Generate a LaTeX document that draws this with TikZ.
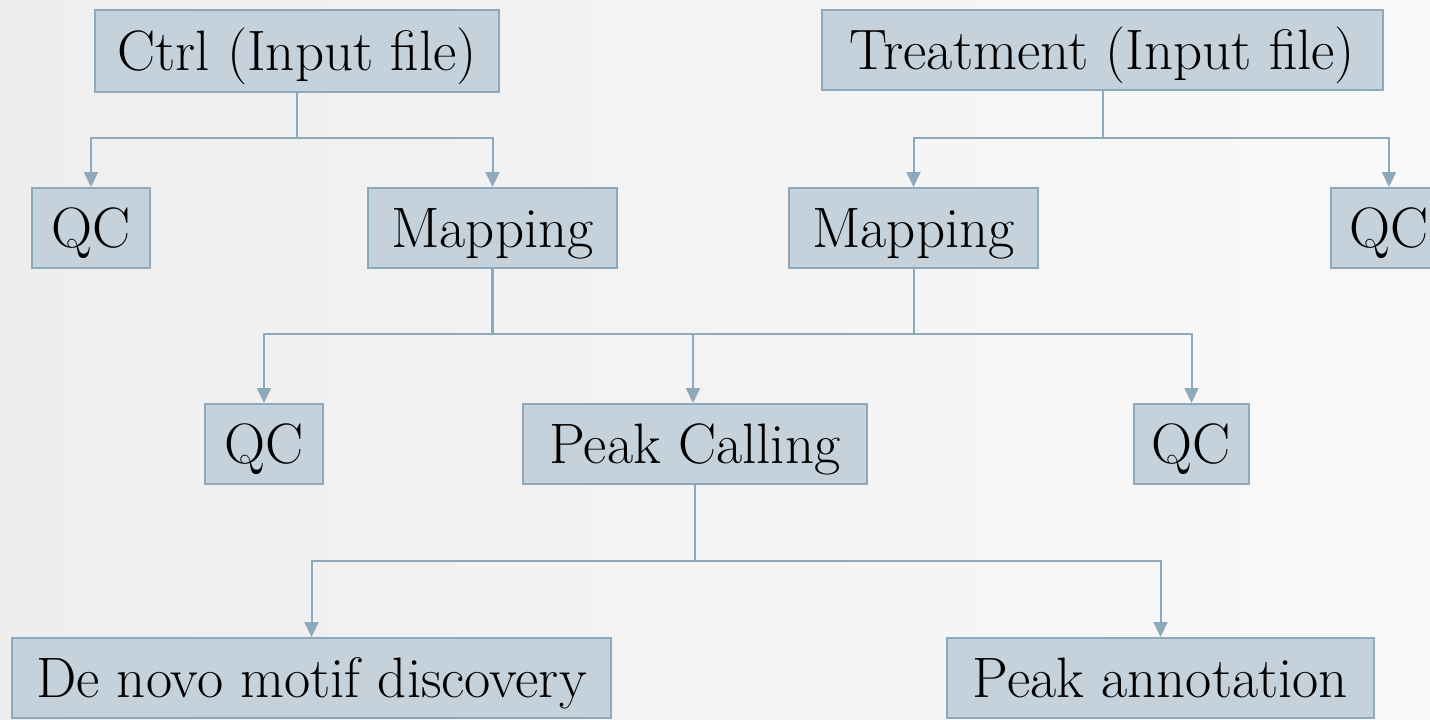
\documentclass[tikz,border=0pt]{standalone}
\usetikzlibrary{arrows.meta}
\definecolor{boxfill}{HTML}{C5D2DC}
\definecolor{boxline}{HTML}{8FA9BC}
\definecolor{bgl}{HTML}{EEEEEE}
\definecolor{bgr}{HTML}{F9F9F9}
\begin{document}
\begin{tikzpicture}[x=0.5pt,y=-0.5pt,
  box/.style={draw=boxline,fill=boxfill,line width=1pt,inner sep=0pt,minimum height=40pt,
    text height=19.2pt,text depth=0pt,font=\fontsize{28.5}{32}\selectfont},
  conn/.style={draw=boxline,line width=1pt},
  arr/.style={conn,-{Triangle[width=7pt,length=7.5pt]}}]
\useasboundingbox (0,0) rectangle (1430,719);
\begin{scope}
\clip (0,0) rectangle (1430,719);
\shade[left color=bgl,right color=bgr] (0,0) rectangle (1430,719);
\node[box,minimum width=202pt,minimum height=41pt] (ctrl) at (297,51) {Ctrl (Input file)};
\node[box,minimum width=280.5pt] (treat) at (1102.5,50) {Treatment (Input file)};
\node[box,minimum width=59pt] (qc1) at (91,228) {QC};
\node[box,minimum width=124.5pt] (map1) at (492.5,228) {Mapping};
\node[box,minimum width=124.5pt] (map2) at (913.5,228) {Mapping};
\node[box,minimum width=58pt] (qc4) at (1389,228) {QC};
\node[box,minimum width=59pt] (qc2) at (264,444) {QC};
\node[box,minimum width=172pt] (peak) at (695,444) {Peak Calling};
\node[box,minimum width=57.5pt] (qc3) at (1191.5,444) {QC};
\node[box,minimum width=299.5pt] (denovo) at (311.5,678) {De novo motif discovery};
\node[box,minimum width=213.5pt] (annot) at (1160.5,678) {Peak annotation};
\coordinate (j1) at (297,138);
\coordinate (j2) at (1102.5,138);
\coordinate (j3) at (693,334);
\coordinate (j4) at (695,561);
\draw[conn] (ctrl.south) -- (j1);
\draw[arr] (j1) -| (qc1.north);
\draw[arr] (j1) -| (map1.north);
\draw[conn] (treat.south) -- (j2);
\draw[arr] (j2) -| (map2.north);
\draw[arr] (j2) -| (qc4.north);
\draw[conn,line width=1.5pt] (map1.south) -- (map1.south |- j3);
\draw[conn] (map2.south) -- (map2.south |- j3);
\draw[arr] (j3) -| (qc2.north);
\draw[arr] (j3) -- (j3 |- peak.north);
\draw[arr] (j3) -| (qc3.north);
\draw[conn] (peak.south) -- (j4);
\draw[arr] (j4) -| (denovo.north);
\draw[arr] (j4) -| (annot.north);
\end{scope}
\end{tikzpicture}
\end{document}
